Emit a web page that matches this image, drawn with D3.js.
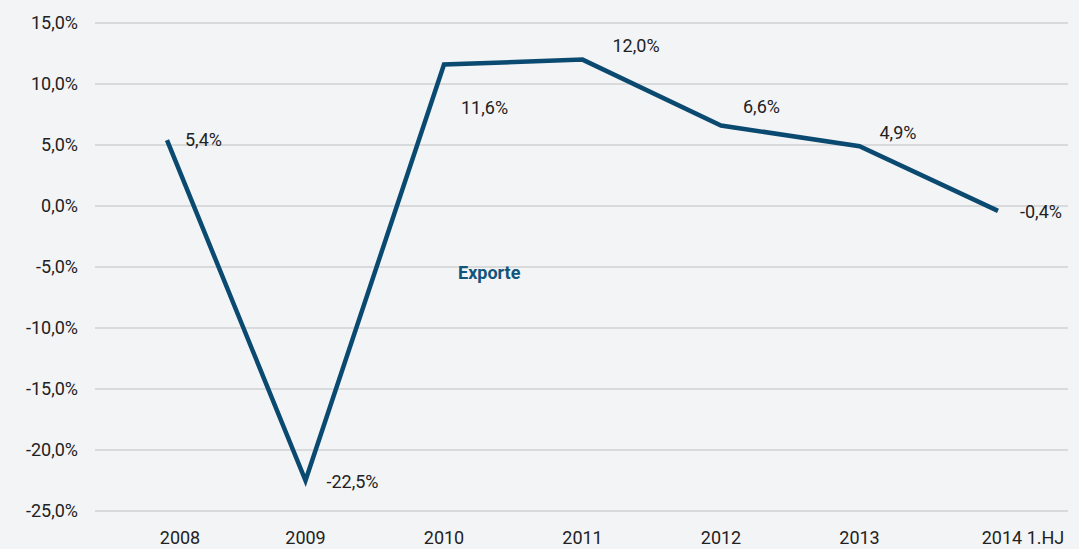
<!DOCTYPE html>
<html>
<head>
<meta charset="utf-8">
<script src="https://cdn.jsdelivr.net/npm/d3@7"></script>
<style>
  body { margin: 0; background: #f3f4f6; }
  svg { display: block; }
  text { font-family: "Roboto", "DejaVu Sans", sans-serif; }
</style>
</head>
<body>
<svg id="chart"></svg>
<script>
// data
const years = ["2008", "2009", "2010", "2011", "2012", "2013", "2014 1.HJ"];
const exporte = [5.4, -22.5, 11.6, 12.0, 6.6, 4.9, -0.4];
const yTicks = [15, 10, 5, 0, -5, -10, -15, -20, -25];
const seriesName = "Exporte";

const W = 1079, H = 549;
const svg = d3.select("#chart").attr("width", W).attr("height", H);

svg.append("rect").attr("width", W).attr("height", H).attr("fill", "#f3f4f6");

let x = d3.scalePoint().domain(years).range([167, 998]);
let y = d3.scaleLinear().domain([-25, 15]).range([511, 23]);

// german style: comma decimal, plain hyphen minus
let fmt = v => d3.format(".1f")(v).replace("\u2212", "-").replace(".", ",") + "%";

// gridlines + y labels
let grid = svg.append("g");
grid.selectAll("line").data(yTicks).join("line")
  .attr("x1", 95).attr("x2", 1068)
  .attr("y1", d => y(d)).attr("y2", d => y(d))
  .attr("stroke", "#d9dadc").attr("stroke-width", 2);
grid.selectAll("text").data(yTicks).join("text")
  .attr("x", 78).attr("y", d => y(d)).attr("dy", "0.35em")
  .attr("text-anchor", "end")
  .attr("font-size", 18).attr("fill", "#222")
  .text(d => fmt(d));

// x labels (first and last nudged like in the original)
let xShift = {"2008": 13, "2014 1.HJ": 25};
svg.append("g").selectAll("text").data(years).join("text")
  .attr("x", d => x(d) + (xShift[d] || 0)).attr("y", 538).attr("dy", "0.35em")
  .attr("text-anchor", "middle")
  .attr("font-size", 18).attr("fill", "#222")
  .text(d => d);

let pts = years.map((c, i) => ({c, v: exporte[i]}));

let line = d3.line().x(d => x(d.c)).y(d => y(d.v));
svg.append("path").datum(pts)
  .attr("d", line)
  .attr("fill", "none")
  .attr("stroke", "#0b4a70")
  .attr("stroke-width", 4.5)
  .attr("stroke-linejoin", "miter")
  .attr("stroke-miterlimit", 10);

// value labels offsets
let off = [[18, 0], [21, 1], [17, 43], [30, -14], [22, -19], [20, -14], [22, 1]];
svg.append("g").selectAll("text").data(pts).join("text")
  .attr("x", (d, i) => x(d.c) + off[i][0])
  .attr("y", (d, i) => y(d.v) + off[i][1])
  .attr("dy", "0.35em")
  .attr("font-size", 18).attr("fill", "#222")
  .text(d => fmt(d.v));

svg.append("text")
  .attr("x", 458).attr("y", 273).attr("dy", "0.35em")
  .attr("font-size", 18).attr("font-weight", "bold").attr("fill", "#11557c")
  .text(seriesName);
</script>
</body>
</html>
